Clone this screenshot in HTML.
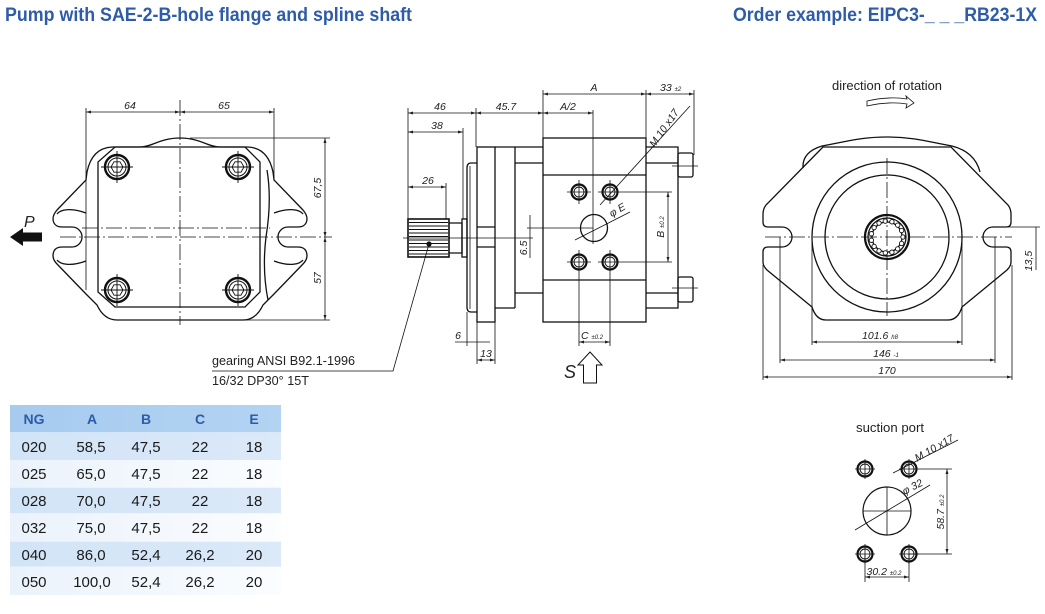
<!DOCTYPE html>
<html><head><meta charset="utf-8"><style>
html,body{margin:0;padding:0;background:#fff;}
svg{display:block;}
.t{font-family:"Liberation Sans",sans-serif;}
.d{font-family:"Liberation Sans",sans-serif;font-style:italic;font-size:10.5px;fill:#222;}
.s{font-size:6px;}
</style></head><body>
<svg width="1045" height="614" viewBox="0 0 1045 614" xmlns="http://www.w3.org/2000/svg">
<defs>
<marker id="a" viewBox="0 0 10 6" refX="10" refY="3" markerWidth="6" markerHeight="3" markerUnits="userSpaceOnUse" orient="auto-start-reverse"><path d="M0,0 L10,3 L0,6 z" fill="#222"/></marker>
<linearGradient id="hg" x1="0" x2="1" y1="0" y2="0"><stop offset="0" stop-color="#a6cbef"/><stop offset="1" stop-color="#b3d3f2"/></linearGradient>
<linearGradient id="bg1" x1="0" x2="1" y1="0" y2="0"><stop offset="0" stop-color="#d2e4f7"/><stop offset="1" stop-color="#dbe9f8"/></linearGradient>
<linearGradient id="bg2" x1="0" x2="1" y1="0" y2="0"><stop offset="0" stop-color="#eaf2fb"/><stop offset="1" stop-color="#fbfdff"/></linearGradient>
</defs>

<!-- Titles -->
<text class="t" x="5" y="21" font-size="19" font-weight="bold" fill="#2e5ca8" textLength="407" lengthAdjust="spacingAndGlyphs">Pump with SAE-2-B-hole flange and spline shaft</text>
<text class="t" x="733" y="21" font-size="19" font-weight="bold" fill="#2e5ca8" textLength="304" lengthAdjust="spacingAndGlyphs">Order example: EIPC3-_ _ _RB23-1X</text>

<!-- ================= LEFT VIEW ================= -->
<g fill="none" stroke="#111" stroke-width="1.3">
<path d="M180,138 C160,138 152,147 140,147 L112,147 Q92,148 87,172 L86,180 L57,210 Q51,217 54,223 Q56,227 62,227 L72,227 A10 10 0 0 1 72,247 L62,247 Q56,247 54,251 Q51,258 57,264 L86,294 L97,305 Q104,320 117,320 L243,320 Q256,320 263,305 L274,294 L303,264 Q309,258 306,251 Q304,247 298,247 L288,247 A10 10 0 0 1 288,227 L298,227 Q304,227 306,223 Q309,217 303,210 L274,180 L273,172 Q268,148 248,147 L220,147 C208,147 200,138 180,138 Z"/>
<path d="M86,213 C70,207 60,210 57,214"/>
<path d="M274,213 C290,207 300,210 303,214"/>
<path d="M86,261 C70,267 60,264 57,260"/>
<path d="M274,261 C290,267 300,264 303,260"/>
<path d="M115,147 L245,147 L260,162 L260,292 L245,307 L115,307 L98,292 L98,162 Z"/>
<path d="M267,170 Q272,200 266,237 Q262,270 268,300"/>
</g>
<g fill="none" stroke="#111">
<circle cx="117" cy="167" r="12" stroke-width="2.4"/><circle cx="117" cy="167" r="9" stroke-width="1"/>
<circle cx="238" cy="167" r="12" stroke-width="2.4"/><circle cx="238" cy="167" r="9" stroke-width="1"/>
<circle cx="117" cy="290" r="12" stroke-width="2.4"/><circle cx="117" cy="290" r="9" stroke-width="1"/>
<circle cx="238" cy="290" r="12" stroke-width="2.4"/><circle cx="238" cy="290" r="9" stroke-width="1"/>
<g stroke-width="0.9">
<polygon points="123,167 120,172.2 114,172.2 111,167 114,161.8 120,161.8"/>
<polygon points="244,167 241,172.2 235,172.2 232,167 235,161.8 241,161.8"/>
<polygon points="123,290 120,295.2 114,295.2 111,290 114,284.8 120,284.8"/>
<polygon points="244,290 241,295.2 235,295.2 232,290 235,284.8 241,284.8"/>
<path d="M101,167 H133 M117,151 V183 M222,167 H254 M238,151 V183 M101,290 H133 M117,274 V306 M222,290 H254 M238,274 V306"/>
</g>
</g>
<g fill="none" stroke="#111" stroke-width="0.8">
<path d="M86,108 V290 M274,108 V180" />
<path d="M180,100 V325" stroke-dasharray="16 3 2 3"/>
<path d="M60,237 H332" stroke-dasharray="16 3 2 3"/>
<path d="M82,228 H270" stroke-dasharray="16 3 2 3"/>
<path d="M190,138 H330 M240,320 H330"/>
<line x1="86" y1="112" x2="180" y2="112" marker-start="url(#a)" marker-end="url(#a)"/>
<line x1="180" y1="112" x2="274" y2="112" marker-start="url(#a)" marker-end="url(#a)"/>
<line x1="325" y1="138" x2="325" y2="237" marker-start="url(#a)" marker-end="url(#a)"/>
<line x1="325" y1="237" x2="325" y2="320" marker-start="url(#a)" marker-end="url(#a)"/>
</g>
<text class="d" x="130" y="109" text-anchor="middle">64</text>
<text class="d" x="224" y="109" text-anchor="middle">65</text>
<text class="d" text-anchor="middle" transform="translate(321,188) rotate(-90)">67,5</text>
<text class="d" text-anchor="middle" transform="translate(321,278) rotate(-90)">57</text>
<text class="d" x="24" y="227" style="font-size:16px">P</text>
<path d="M10,237 L23,228 L23,232.5 L42,232.5 L42,241.5 L23,241.5 L23,246 Z" fill="#111"/>

<!-- ================= MIDDLE VIEW ================= -->
<g fill="none" stroke="#111" stroke-width="1.3">
<rect x="408" y="219" width="41" height="38" fill="#fff" stroke-width="1.6"/>
<path d="M409,222.5 H448 M409,226 H448 M409,229.5 H448 M409,233 H448 M409,236.5 H448 M409,240 H448 M409,243.5 H448 M409,247 H448 M409,250.5 H448 M409,254 H448" stroke-width="0.9"/>
<path d="M449,223 H462 V253 H449"/>
<rect x="462" y="219" width="5" height="38"/>
<path d="M477,163 L471,163 Q467,163 467,168 L467,307 Q467,312 471,312 L477,312"/>
<line x1="470" y1="166" x2="470" y2="309" stroke-width="0.8"/>
<rect x="477" y="147" width="18" height="175"/>
<path d="M477,227 H495 M477,247 H495"/>
<path d="M495,147 H543 M515,147 V308 M495,308 H515 M515,163 H543 M515,293 H543"/>
<rect x="543" y="138" width="103" height="184"/>
<path d="M543,175 H646 M543,280 H646"/>
<path d="M646,147 H678 V308 H646 M646,163 H678 M646,293 H678"/>
<rect x="678" y="153" width="15" height="24" rx="2"/>
<rect x="678" y="277" width="15" height="25" rx="2"/>
<circle cx="594" cy="228" r="13.5"/>
</g>
<circle cx="429" cy="244" r="2.6" fill="#111"/>
<g fill="none" stroke="#111">
<circle cx="579" cy="192" r="7.5" stroke-width="2.2"/><circle cx="579" cy="192" r="5" stroke-width="0.9"/>
<circle cx="610" cy="192" r="7.5" stroke-width="2.2"/><circle cx="610" cy="192" r="5" stroke-width="0.9"/>
<circle cx="579" cy="262" r="7.5" stroke-width="2.2"/><circle cx="579" cy="262" r="5" stroke-width="0.9"/>
<circle cx="610" cy="262" r="7.5" stroke-width="2.2"/><circle cx="610" cy="262" r="5" stroke-width="0.9"/>
</g>
<g fill="none" stroke="#111" stroke-width="0.8">
<path d="M403,238 H533"/>
<path d="M593,110 V244"/>
<path d="M579,180 V204 M567,192 H591 M610,180 V204 M598,192 H672 M579,250 V346 M567,262 H591 M610,250 V346 M598,262 H672"/>
<path d="M672,166 H698 M672,288 H698"/>
<path d="M408,108 V219 M476,108 V147 M463,128 V219 M446,183 V219 M543,90 V138 M646,90 V147 M694,90 V155"/>
<path d="M527,228 H593 M530,215 V258"/>
<path d="M467,312 V346 M477,322 V364 M495,322 V364"/>
<line x1="543" y1="94" x2="646" y2="94" marker-start="url(#a)" marker-end="url(#a)"/>
<line x1="646" y1="94" x2="694" y2="94" marker-start="url(#a)" marker-end="url(#a)"/>
<line x1="408" y1="113" x2="476" y2="113" marker-start="url(#a)" marker-end="url(#a)"/>
<line x1="476" y1="113" x2="543" y2="113" marker-start="url(#a)" marker-end="url(#a)"/>
<line x1="543" y1="113" x2="593" y2="113" marker-start="url(#a)" marker-end="url(#a)"/>
<line x1="408" y1="132" x2="463" y2="132" marker-start="url(#a)" marker-end="url(#a)"/>
<line x1="408" y1="187" x2="446" y2="187" marker-start="url(#a)" marker-end="url(#a)"/>
<path d="M455,342 H490"/>
<line x1="477" y1="360" x2="495" y2="360" marker-start="url(#a)" marker-end="url(#a)"/>
<line x1="579" y1="342" x2="610" y2="342" marker-start="url(#a)" marker-end="url(#a)"/>
<line x1="668" y1="192" x2="668" y2="262" marker-start="url(#a)" marker-end="url(#a)"/>
<path d="M600,205 L690,106"/>
<path d="M575,240 L630,212"/>
<path d="M429,244 L393,371 H212"/>
</g>
<text class="d" x="594" y="91" text-anchor="middle">A</text>
<text class="d" x="660" y="91">33 <tspan class="s">±2</tspan></text>
<text class="d" x="440" y="110" text-anchor="middle">46</text>
<text class="d" x="506" y="110" text-anchor="middle">45.7</text>
<text class="d" x="568" y="110" text-anchor="middle">A/2</text>
<text class="d" x="437" y="129" text-anchor="middle">38</text>
<text class="d" x="428" y="184" text-anchor="middle">26</text>
<text class="d" x="458" y="339" text-anchor="middle">6</text>
<text class="d" x="486" y="357" text-anchor="middle">13</text>
<text class="d" x="581" y="339">C <tspan class="s">±0.2</tspan></text>
<text class="d" text-anchor="middle" transform="translate(527,248) rotate(-90)">6.5</text>
<text class="d" text-anchor="middle" transform="translate(664,227) rotate(-90)">B <tspan class="s">±0.2</tspan></text>
<text class="d" text-anchor="middle" transform="translate(619,213) rotate(-30)">φ E</text>
<text class="d" text-anchor="middle" transform="translate(667,130) rotate(-55)">M 10 x17</text>
<text class="t" x="212" y="365" font-size="13" fill="#222" textLength="143" lengthAdjust="spacingAndGlyphs">gearing ANSI B92.1-1996</text>
<text class="t" x="212" y="385" font-size="13" fill="#222" textLength="97" lengthAdjust="spacingAndGlyphs">16/32 DP30° 15T</text>
<path d="M590,352 L602,365 L596.5,365 L596.5,383 L583.5,383 L583.5,365 L578,365 Z" fill="#fff" stroke="#111" stroke-width="1"/>
<text class="d" x="564" y="378" style="font-size:18px">S</text>

<!-- ================= RIGHT VIEW ================= -->
<text class="t" x="887" y="90" font-size="13" fill="#222" text-anchor="middle" textLength="110" lengthAdjust="spacingAndGlyphs">direction of rotation</text>
<path d="M867,101 Q889,96 907,99 L906,96 L914,103 L906,108 L907,104 Q889,101 867,106 Z" fill="#fff" stroke="#111" stroke-width="0.8"/>
<g fill="none" stroke="#111" stroke-width="1.3">
<path d="M823,147 L766,205 Q763,209 763,214 L763,222 Q763,227 768,227 L782,227 A10 10 0 0 1 782,247 L768,247 Q763,247 763,252 L763,262 Q763,266 767,270 L812,307 Q816,320 826,320 L948,320 Q958,320 962,307 L1007,270 Q1011,266 1011,262 L1011,252 Q1011,247 1006,247 L993,247 A10 10 0 0 1 993,227 L1006,227 Q1011,227 1011,222 L1011,214 Q1011,209 1008,205 L951,147 Z"/>
<path d="M803,168 Q802,152 822,146 C845,142 860,137 887,137 C914,137 929,142 952,146 Q975,152 980,172"/>
<circle cx="887" cy="237" r="75"/>
<circle cx="887" cy="237" r="62"/>
<circle cx="887" cy="237" r="22" stroke-width="2.2"/>
<circle cx="887" cy="237" r="19"/>
<circle cx="887" cy="237" r="15"/>
</g>
<g fill="#fff" stroke="#111" stroke-width="0.9">
<circle cx="903" cy="237" r="2.2"/><circle cx="901.6" cy="243.5" r="2.2"/><circle cx="897.7" cy="248.9" r="2.2"/><circle cx="891.9" cy="252.2" r="2.2"/><circle cx="885.3" cy="252.9" r="2.2"/><circle cx="879" cy="250.9" r="2.2"/><circle cx="874.1" cy="246.4" r="2.2"/><circle cx="871.4" cy="240.3" r="2.2"/><circle cx="871.4" cy="233.7" r="2.2"/><circle cx="874.1" cy="227.6" r="2.2"/><circle cx="879" cy="223.1" r="2.2"/><circle cx="885.3" cy="221.1" r="2.2"/><circle cx="891.9" cy="221.8" r="2.2"/><circle cx="897.7" cy="225.1" r="2.2"/><circle cx="901.6" cy="230.5" r="2.2"/>
</g>
<g fill="none" stroke="#111" stroke-width="0.8">
<path d="M765,237 H1012" stroke-dasharray="16 3 2 3"/>
<path d="M887,158 V316" stroke-dasharray="16 3 2 3"/>
<path d="M812,237 V345 M962,237 V345 M780,237 V363 M995,237 V363 M763,265 V380 M1012,265 V380 M993,227 H1040"/>
<line x1="812" y1="342" x2="962" y2="342" marker-start="url(#a)" marker-end="url(#a)"/>
<line x1="780" y1="360" x2="995" y2="360" marker-start="url(#a)" marker-end="url(#a)"/>
<line x1="763" y1="377" x2="1012" y2="377" marker-start="url(#a)" marker-end="url(#a)"/>
<path d="M1036,227 V270"/>
</g>
<text class="d" x="880" y="339" text-anchor="middle">101.6 <tspan class="s">h8</tspan></text>
<text class="d" x="886" y="357" text-anchor="middle">146 <tspan class="s">-1</tspan></text>
<text class="d" x="887" y="374" text-anchor="middle">170</text>
<text class="d" text-anchor="middle" transform="translate(1032,261) rotate(-90)">13,5</text>

<!-- ================= SUCTION PORT ================= -->
<text class="t" x="890" y="432" font-size="12.5" fill="#222" text-anchor="middle" textLength="68" lengthAdjust="spacingAndGlyphs">suction port</text>
<g fill="none" stroke="#111">
<circle cx="865" cy="469" r="7.5" stroke-width="2.2"/><circle cx="865" cy="469" r="5" stroke-width="0.9"/>
<circle cx="909" cy="469" r="7.5" stroke-width="2.2"/><circle cx="909" cy="469" r="5" stroke-width="0.9"/>
<circle cx="865" cy="554" r="7.5" stroke-width="2.2"/><circle cx="865" cy="554" r="5" stroke-width="0.9"/>
<circle cx="909" cy="554" r="7.5" stroke-width="2.2"/><circle cx="909" cy="554" r="5" stroke-width="0.9"/>
<circle cx="887" cy="511" r="24" stroke-width="1.2"/>
<g stroke-width="0.8">
<path d="M855,469 H875 M865,459 V479 M899,469 H909 M909,459 V479 M855,554 H875 M865,544 V564 M899,554 H919 M909,544 V564"/>
<path d="M887,487 V535 M863,511 H911"/>
<path d="M893,473 L958,440 M855,530 L930,485"/>
<path d="M909,469 H952 M909,554 H952 M865,554 V582 M909,554 V582"/>
<line x1="947" y1="469" x2="947" y2="554" marker-start="url(#a)" marker-end="url(#a)"/>
<line x1="865" y1="577" x2="909" y2="577" marker-start="url(#a)" marker-end="url(#a)"/>
</g>
</g>
<text class="d" text-anchor="middle" transform="translate(936,451) rotate(-30)">M 10 x17</text>
<text class="d" text-anchor="middle" transform="translate(914,490) rotate(-27)">φ 32</text>
<text class="d" text-anchor="middle" transform="translate(944,512) rotate(-90)">58.7 <tspan class="s">±0.2</tspan></text>
<text class="d" x="884" y="575" text-anchor="middle">30.2 <tspan class="s">±0.2</tspan></text>

<!-- ================= TABLE ================= -->
<rect x="10" y="405" width="271" height="27.3" fill="url(#hg)"/>
<rect x="10" y="432.3" width="271" height="27.7" fill="url(#bg1)"/>
<rect x="10" y="460" width="271" height="27.7" fill="url(#bg2)"/>
<rect x="10" y="487.7" width="271" height="25.6" fill="url(#bg1)"/>
<rect x="10" y="513.3" width="271" height="28.4" fill="url(#bg2)"/>
<rect x="10" y="541.7" width="271" height="25" fill="url(#bg1)"/>
<rect x="10" y="566.7" width="271" height="28.3" fill="url(#bg2)"/>
<g class="t" font-size="14" font-weight="bold" fill="#2e5ca8" text-anchor="middle">
<text x="34" y="424">NG</text><text x="92" y="424">A</text><text x="146" y="424">B</text><text x="200" y="424">C</text><text x="254" y="424">E</text>
</g>
<g class="t" font-size="15" fill="#1a1a1a" text-anchor="middle">
<text x="34" y="452">020</text><text x="91" y="452">58,5</text><text x="146" y="452">47,5</text><text x="200" y="452">22</text><text x="254" y="452">18</text>
<text x="34" y="479">025</text><text x="91" y="479">65,0</text><text x="146" y="479">47,5</text><text x="200" y="479">22</text><text x="254" y="479">18</text>
<text x="34" y="506">028</text><text x="91" y="506">70,0</text><text x="146" y="506">47,5</text><text x="200" y="506">22</text><text x="254" y="506">18</text>
<text x="34" y="533">032</text><text x="91" y="533">75,0</text><text x="146" y="533">47,5</text><text x="200" y="533">22</text><text x="254" y="533">18</text>
<text x="34" y="560">040</text><text x="91" y="560">86,0</text><text x="146" y="560">52,4</text><text x="200" y="560">26,2</text><text x="254" y="560">20</text>
<text x="34" y="587">050</text><text x="92" y="587">100,0</text><text x="146" y="587">52,4</text><text x="200" y="587">26,2</text><text x="254" y="587">20</text>
</g>
</svg>
</body></html>
